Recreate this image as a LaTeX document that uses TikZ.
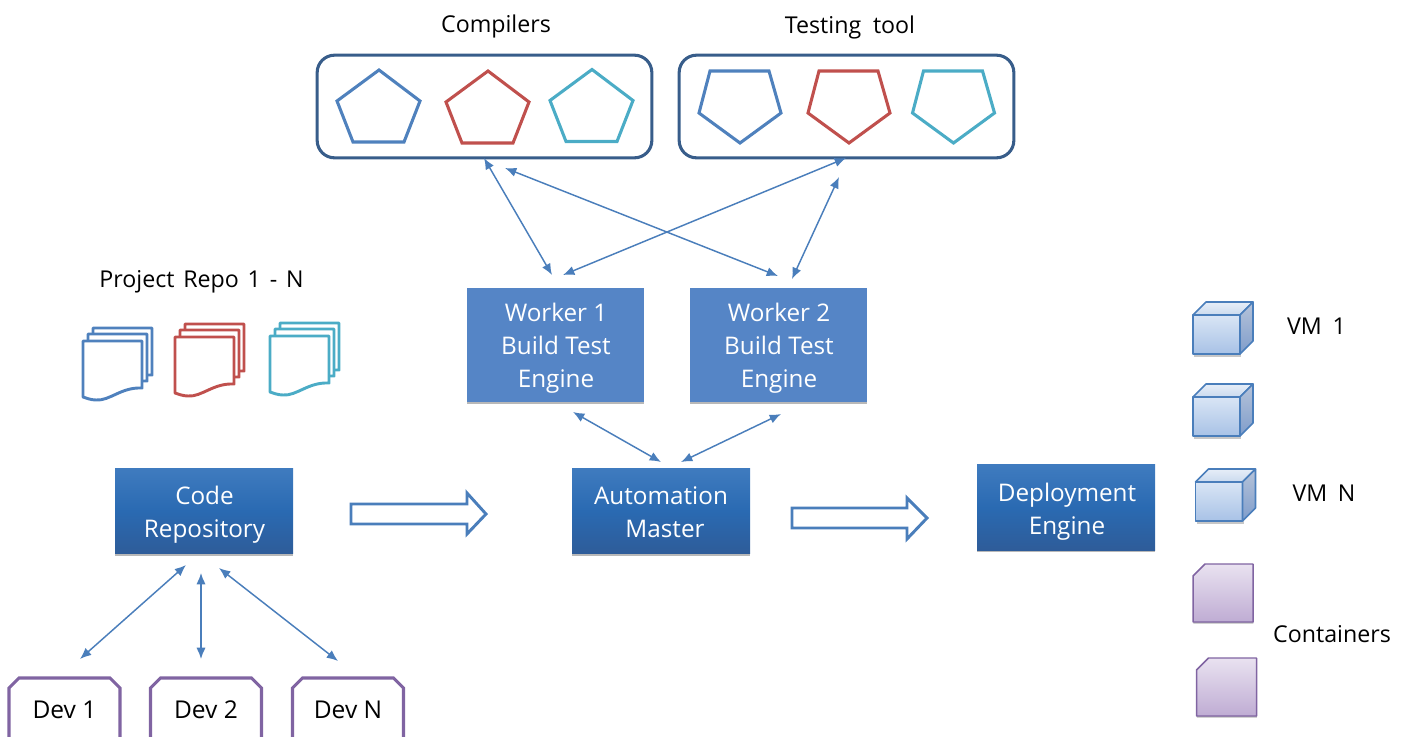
\documentclass[tikz,border=0pt]{standalone}
\usepackage{fontspec}
\setmainfont{Open Sans}
\usetikzlibrary{arrows.meta,shadows}
\definecolor{cblue}{HTML}{4F81BD}
\definecolor{cred}{HTML}{C0504D}
\definecolor{cteal}{HTML}{4BACC6}
\definecolor{cframe}{HTML}{385D8A}
\definecolor{cline}{HTML}{4A7EBB}
\definecolor{cpurple}{HTML}{8064A2}
\definecolor{flatblue}{HTML}{5585C6}
\definecolor{gradtop}{HTML}{3F7BBF}
\definecolor{gradmid}{HTML}{2A6AB2}
\definecolor{gradbot}{HTML}{2E5C99}
\definecolor{cubefa}{HTML}{D9E5F5}
\definecolor{cubefb}{HTML}{A8C2E6}
\definecolor{cubeta}{HTML}{E6EEF8}
\definecolor{cubetb}{HTML}{CBDAEE}
\definecolor{cubesa}{HTML}{B6C3D9}
\definecolor{cubesb}{HTML}{7F9DCB}
\definecolor{ctra}{HTML}{E9E2F0}
\definecolor{ctrb}{HTML}{BFACD3}
\tikzset{
  lbl/.style={font=\fontsize{17.4}{24}\selectfont,text=black,inner sep=0pt,align=center},
  softshadow/.style={drop shadow={shadow xshift=0.2pt,shadow yshift=-1.5pt,opacity=.28,fill=black}},
  flatbox/.style={fill=flatblue,draw=none,minimum width=133pt,minimum height=85.5pt,inner sep=0pt,softshadow},
  gradbox/.style={top color=gradtop,bottom color=gradbot,middle color=gradmid,draw=none,minimum width=133.5pt,minimum height=64pt,inner sep=0pt,softshadow},
  boxtext/.style={text=white,align=center,inner sep=0pt,font=\fontsize{18.2}{24.7}\selectfont},
  group/.style={draw=cframe,line width=2.3pt,rounded corners=13pt,minimum width=251pt,minimum height=77pt,inner sep=0pt},
  link/.style={cline,line width=1.1pt,{Latex[length=8.5pt,width=7pt]}-{Latex[length=8.5pt,width=7pt]}},
  hollow/.style={draw=cline,line width=2.2pt,fill=white,line join=miter},
  pent/.style={line width=2.3pt,line join=miter},
  page/.style={line width=2.2pt,fill=white,line join=round},
  devbox/.style={draw=cpurple,line width=2.3pt,fill=white},
  cubef/.style={draw=cline,line width=1.2pt,line join=round},
  ctr/.style={draw=cpurple,line width=1.1pt,top color=ctra,bottom color=ctrb,line join=round,drop shadow={shadow xshift=0.2pt,shadow yshift=-1.2pt,opacity=.28,fill=black}},
}
\newcommand{\pentup}[3]{\draw[pent,draw=#3] (#1+42,#2) -- (#1+83,#2+31) -- (#1+67,#2+72) -- (#1+16,#2+72) -- (#1,#2+31) -- cycle;}
\newcommand{\pentdn}[3]{\draw[pent,draw=#3] (#1+11,#2) -- (#1+70,#2) -- (#1+82,#2+42) -- (#1+41,#2+72) -- (#1,#2+42) -- cycle;}
\newcommand{\docpage}[3]{\draw[page,draw=#3] (#1,#2) -- (#1+59,#2) -- (#1+59,#2+47) .. controls (#1+38,#2+46) and (#1+27,#2+60) .. (#1+13,#2+59) .. controls (#1+8,#2+59) and (#1+3,#2+57) .. (#1,#2+56) -- cycle;}
\newcommand{\docstack}[3]{\docpage{#1+10}{#2-13}{#3}\docpage{#1+5}{#2-7}{#3}\docpage{#1}{#2}{#3}}
\newcommand{\cube}[2]{%
  \fill[black,opacity=.22] (#1+1,#2+39) rectangle (#1+48,#2+41.5);
  \shade[top color=cubefa,bottom color=cubefb,cubef] (#1,#2) rectangle (#1+47,#2+39);
  \shade[top color=cubeta,bottom color=cubetb,cubef] (#1,#2) -- (#1+13,#2-13) -- (#1+60,#2-13) -- (#1+47,#2) -- cycle;
  \shade[top color=cubesa,bottom color=cubesb,cubef] (#1+47,#2) -- (#1+60,#2-13) -- (#1+60,#2+26) -- (#1+47,#2+39) -- cycle;}
\newcommand{\ctrshape}[2]{\path[ctr] (#1+12,#2) -- (#1+60,#2) -- (#1+60,#2+58) -- (#1,#2+58) -- (#1,#2+12) -- cycle;}
\begin{document}
\begin{tikzpicture}[x=0.75pt,y=-0.75pt]
\useasboundingbox (0,0) rectangle (1402,736);
% titles
\node[lbl] (tcomp) at (496,26) {Compilers};
\node[lbl] (ttest) at (850,27) {Testing\hspace{.25em} tool};
\node[lbl] (trepo) at (201.5,282) {Project\hspace{.12em} Repo\hspace{.12em} 1\hspace{.12em} -\hspace{.12em} N};
\node[lbl] (tvm1) at (1316.5,326) {VM\hspace{.2em} 1};
\node[lbl] (tvmn) at (1324,493) {VM\hspace{.2em} N};
\node[lbl] (tcont) at (1332,634) {Containers};
% groups
\node[group] (compilers) at (484.5,106.5) {};
\node[group] (testing) at (846.5,106.5) {};
\pentup{337}{70}{cblue}
\pentup{446}{71}{cred}
\pentup{550}{69.5}{cteal}
\pentdn{699}{71}{cblue}
\pentdn{808}{71}{cred}
\pentdn{912.5}{71}{cteal}
% documents
\docstack{83}{341}{cblue}
\docstack{175}{337}{cred}
\docstack{270}{336}{cteal}
% boxes
\node[flatbox] (w1) at (555.5,345) {};
\node[flatbox] (w2) at (778.5,345) {};
\node[gradbox] (code) at (204,511) {};
\node[gradbox] (master) at (661,511) {};
\node[gradbox] (deploy) at (1066,507.5) {};
\node[boxtext] (w1t) at (556,348) {Worker 1\\Build Test\\Engine};
\node[boxtext] (w2t) at (779,348) {Worker 2\\Build Test\\Engine};
\node[boxtext] (codet) at (204.5,515) {Code\\Repository};
\node[boxtext] (mastert) at (661,512) {Automation\\\hspace*{6pt}Master};
\node[boxtext] (deployt) at (1067,511.5) {Deployment\\Engine};
% developers
\foreach \nm/\x/\tx in {d1/9/Dev 1,d2/150.5/Dev 2,dn/292.5/Dev N}{
  \path[devbox] (\x+10,678) -- (\x+101,678) -- (\x+111,688) -- (\x+111,745) -- (\x,745) -- (\x,688) -- cycle;
  \node[inner sep=0pt,font=\fontsize{18.4}{22}\selectfont,text=black] (\nm) at (\x+55.5,710) {\tx};
}
% connector ends
\coordinate (c1) at (484,158);   \coordinate (w1a) at (552,275);
\coordinate (c2) at (505,168);   \coordinate (w2a) at (778,276);
\coordinate (t1) at (846,158);   \coordinate (w1b) at (563,275);
\coordinate (t2) at (839,177);   \coordinate (w2b) at (792,279);
\coordinate (w1c) at (573,412);  \coordinate (m1) at (661,462);
\coordinate (w2c) at (781,414);  \coordinate (m2) at (681,462);
\coordinate (r1) at (186,565);   \coordinate (d1a) at (80,659);
\coordinate (r2) at (201,573);   \coordinate (d2a) at (201,659);
\coordinate (r3) at (219,568);   \coordinate (dna) at (338,661);
\draw[link] (c1) -- (w1a);
\draw[link] (c2) -- (w2a);
\draw[link] (t1) -- (w1b);
\draw[link] (t2) -- (w2b);
\draw[link] (w1c) -- (m1);
\draw[link] (w2c) -- (m2);
\draw[link] (r1) -- (d1a);
\draw[link] (r2) -- (d2a);
\draw[link] (r3) -- (dna);
% hollow arrows
\path[hollow] (351,504) -- (467,504) -- (467,493) -- (486,514) -- (467,534) -- (467,524) -- (351,524) -- cycle;
\path[hollow] (792,508) -- (907,508) -- (907,498) -- (927,518) -- (907,539) -- (907,528) -- (792,528) -- cycle;
% cubes
\cube{1193}{315}
\cube{1193}{397}
\cube{1195.5}{482}
% containers
\ctrshape{1193}{564}
\ctrshape{1196.5}{658}
\end{tikzpicture}
\end{document}
